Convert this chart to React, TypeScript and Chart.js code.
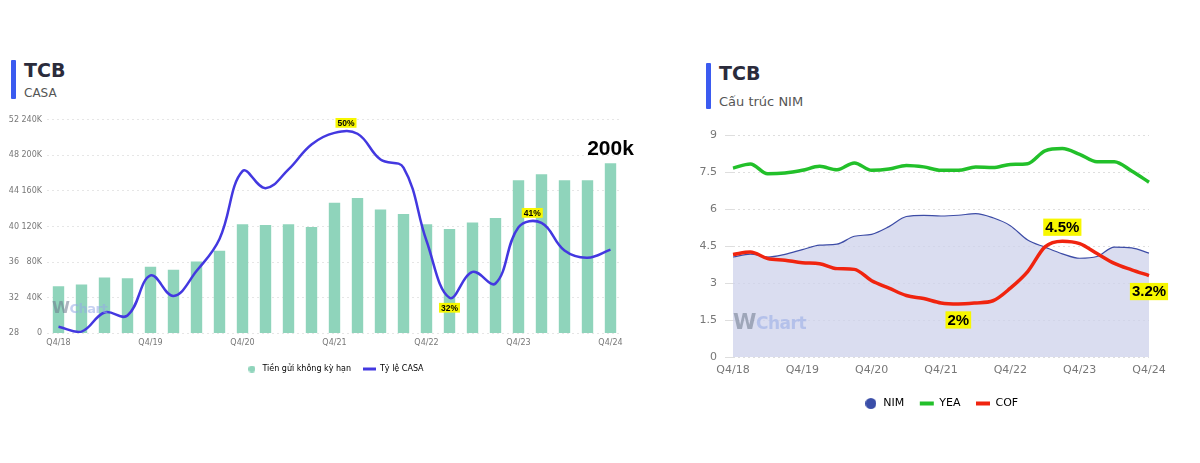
import React, { useEffect, useRef } from "react";
import { Chart, registerables } from "chart.js";
Chart.register(...registerables);

const quarters = [
  "Q4/18", "Q1/19", "Q2/19", "Q3/19", "Q4/19", "Q1/20", "Q2/20", "Q3/20", "Q4/20",
  "Q1/21", "Q2/21", "Q3/21", "Q4/21", "Q1/22", "Q2/22", "Q3/22", "Q4/22",
  "Q1/23", "Q2/23", "Q3/23", "Q4/23", "Q1/24", "Q2/24", "Q3/24", "Q4/24",
];

// Left chart: CASA
const demandDeposits = [53, 55, 62.7, 62, 74.7, 71.3, 80.6, 92.6, 122.5, 121.7, 122.5, 119.5, 146.7, 152, 139, 134, 122.5, 117, 124.3, 129.5, 171.7, 178.5, 171.7, 171.7, 191];
const casaRatio = [28.75, 28.2, 30.35, 30.0, 34.5, 32.2, 35.0, 38.6, 46.2, 44.3, 46.4, 49.2, 50.5, 50.4, 47.5, 46.6, 38.4, 32.0, 34.9, 33.6, 39.9, 40.4, 37.3, 36.5, 37.4];
const ratioTicks = { min: 28, max: 52, step: 4 };
const amountTicks = { min: 0, max: 240, step: 40 };

// Right chart: NIM structure
const nim = [4.06, 4.18, 4.06, 4.17, 4.36, 4.54, 4.58, 4.9, 4.98, 5.29, 5.7, 5.75, 5.72, 5.75, 5.82, 5.65, 5.33, 4.75, 4.46, 4.19, 4.01, 4.08, 4.46, 4.43, 4.22];
const yea = [7.66, 7.83, 7.43, 7.46, 7.57, 7.73, 7.59, 7.87, 7.57, 7.62, 7.77, 7.71, 7.57, 7.57, 7.7, 7.68, 7.81, 7.84, 8.36, 8.45, 8.22, 7.92, 7.92, 7.54, 7.09];
const cof = [4.16, 4.26, 4.0, 3.93, 3.83, 3.79, 3.59, 3.56, 3.1, 2.8, 2.5, 2.38, 2.2, 2.16, 2.2, 2.29, 2.8, 3.47, 4.47, 4.7, 4.6, 4.2, 3.8, 3.54, 3.31];
const nimTicks = { min: 0, max: 9, step: 1.5 };

type Lbl = { ds: number; at: number; text: string; dy: number; size: number; bg: string | null };

const casaLabels: Lbl[] = [
  { ds: 1, at: 12.5, text: "50%", dy: -10, size: 8.5, bg: "#f7f700" },
  { ds: 1, at: 17, text: "32%", dy: 10, size: 8.5, bg: "#f7f700" },
  { ds: 1, at: 20.6, text: "41%", dy: -10, size: 8.5, bg: "#f7f700" },
  { ds: 0, at: 24, text: "200k", dy: -14, size: 21, bg: null },
];
const nimLabels: Lbl[] = [
  { ds: 2, at: 13, text: "2%", dy: 16, size: 15, bg: "#f7f700" },
  { ds: 2, at: 19, text: "4.5%", dy: -14, size: 15, bg: "#f7f700" },
  { ds: 2, at: 24, text: "3.2%", dy: 16, size: 15, bg: "#f7f700" },
];

const FONT = "'DejaVu Sans', sans-serif";
const q4Only = (_v: any, i: number) => (quarters[i].startsWith("Q4") ? quarters[i] : "");

function makeDot(d: number, color: string) {
  const c = document.createElement("canvas");
  c.width = d;
  c.height = d;
  const g = c.getContext("2d")!;
  g.fillStyle = color;
  g.beginPath();
  g.arc(d / 2, d / 2, d / 2, 0, Math.PI * 2);
  g.fill();
  return c;
}

function labelPlugin(labels: Lbl[]) {
  return {
    id: "valueLabels",
    afterDatasetsDraw(chart: any) {
      const ctx = chart.ctx;
      ctx.save();
      for (const l of labels) {
        const meta = chart.getDatasetMeta(l.ds);
        const i0 = Math.floor(l.at);
        const i1 = Math.ceil(l.at);
        const p0 = meta.data[i0];
        const p1 = meta.data[i1];
        const t = l.at - i0;
        const x = p0.x + (p1.x - p0.x) * t;
        const y = Math.min(p0.y, p1.y) + l.dy;
        ctx.font = `bold ${l.size}px 'Liberation Sans', Arial, sans-serif`;
        ctx.textAlign = "center";
        ctx.textBaseline = "middle";
        const w = ctx.measureText(l.text).width;
        if (l.bg) {
          ctx.fillStyle = l.bg;
          const h = l.size * 1.15;
          ctx.fillRect(x - w / 2 - 2, y - h / 2, w + 4, h);
        }
        ctx.fillStyle = "#000";
        ctx.fillText(l.text, x, y + 0.5);
      }
      ctx.restore();
    },
  };
}

function CasaChart() {
  const ref = useRef<HTMLCanvasElement>(null);
  useEffect(() => {
    const dot = makeDot(7, "#8fd4bb");
    const chart = new Chart(ref.current!, {
      type: "bar",
      data: {
        labels: quarters,
        datasets: [
          {
            type: "bar",
            label: "Tiền gửi không kỳ hạn",
            data: demandDeposits,
            yAxisID: "yAmt",
            backgroundColor: "#8fd4bb",
            barPercentage: 0.55,
            categoryPercentage: 0.9,
            order: 1,
          },
          {
            type: "line",
            label: "Tỷ lệ CASA",
            data: casaRatio,
            yAxisID: "yRatio",
            borderColor: "#4338e0",
            backgroundColor: "#4338e0",
            borderWidth: 2.5,
            tension: 0.4,
            pointRadius: 0,
            order: 0,
          } as any,
        ],
      },
      options: {
        animation: false,
        responsive: true,
        maintainAspectRatio: false,
        layout: { padding: { top: 14.5, right: 18, left: 0, bottom: 0 } },
        plugins: {
          tooltip: { enabled: false },
          legend: {
            position: "bottom",
            fullSize: false,
            labels: {
              font: { size: 8, family: FONT },
              color: "#444",
              boxWidth: 12,
              boxHeight: 7,
              padding: 12,
              usePointStyle: true,
              pointStyleWidth: 13,
              generateLabels: () => [
                { text: "Tiền gửi không kỳ hạn", fillStyle: "#8fd4bb", strokeStyle: "#8fd4bb", lineWidth: 0, pointStyle: dot, datasetIndex: 0, hidden: false } as any,
                { text: "Tỷ lệ CASA", fillStyle: "#4338e0", strokeStyle: "#4338e0", lineWidth: 3, pointStyle: "line", datasetIndex: 1, hidden: false } as any,
              ],
            },
          },
        },
        scales: {
          x: {
            grid: { display: false, drawTicks: false, tickLength: 0 },
            border: { display: false },
            ticks: { autoSkip: false, maxRotation: 0, padding: 5, font: { size: 8, family: FONT }, color: "#777", callback: q4Only },
          },
          yAmt: {
            position: "left",
            min: amountTicks.min,
            max: amountTicks.max,
            grid: { color: "#e6e6e6", drawTicks: false },
            border: { display: false, dash: [2, 3] },
            ticks: {
              stepSize: amountTicks.step,
              font: { size: 8, family: FONT },
              color: "#777",
              padding: 5,
              callback: (v: any) => (v === 0 ? "0" : `${v}K`),
            },
            afterFit: (s: any) => { s.width = 26; },
          },
          yRatio: {
            position: "left",
            min: ratioTicks.min,
            max: ratioTicks.max,
            grid: { display: false, drawTicks: false },
            border: { display: false },
            ticks: { stepSize: ratioTicks.step, font: { size: 8, family: FONT }, color: "#777", padding: 2 },
            afterFit: (s: any) => { s.width = 21; },
          },
        },
      },
      plugins: [labelPlugin(casaLabels)],
    });
    return () => chart.destroy();
  }, []);
  return <canvas ref={ref} />;
}

function NimChart() {
  const ref = useRef<HTMLCanvasElement>(null);
  useEffect(() => {
    const dot = makeDot(11, "#3a4ea8");
    const chart = new Chart(ref.current!, {
      type: "line",
      data: {
        labels: quarters,
        datasets: [
          {
            label: "NIM",
            data: nim,
            borderColor: "#3d4ca6",
            backgroundColor: "rgba(205,209,235,0.75)",
            borderWidth: 1.2,
            fill: "origin",
            cubicInterpolationMode: "monotone",
            pointRadius: 0,
            order: 2,
          },
          {
            label: "YEA",
            data: yea,
            borderColor: "#22c02a",
            backgroundColor: "#22c02a",
            borderWidth: 3.5,
            cubicInterpolationMode: "monotone",
            pointRadius: 0,
            order: 1,
          },
          {
            label: "COF",
            data: cof,
            borderColor: "#f0240f",
            backgroundColor: "#f0240f",
            borderWidth: 3.5,
            cubicInterpolationMode: "monotone",
            pointRadius: 0,
            order: 0,
          },
        ],
      },
      options: {
        animation: false,
        responsive: true,
        maintainAspectRatio: false,
        layout: { padding: { top: 15, right: 41, left: 0, bottom: 0 } },
        plugins: {
          tooltip: { enabled: false },
          legend: {
            position: "bottom",
            fullSize: false,
            labels: {
              font: { size: 11, family: FONT },
              color: "#444",
              padding: 15.5,
              boxWidth: 14,
              boxHeight: 11,
              usePointStyle: true,
              pointStyleWidth: 14,
              generateLabels: () => [
                { text: "NIM", fillStyle: "#3a4ea8", strokeStyle: "#3a4ea8", lineWidth: 0, pointStyle: dot, datasetIndex: 0, hidden: false } as any,
                { text: "YEA", fillStyle: "#22c02a", strokeStyle: "#22c02a", lineWidth: 4, pointStyle: "line", datasetIndex: 1, hidden: false } as any,
                { text: "COF", fillStyle: "#f0240f", strokeStyle: "#f0240f", lineWidth: 4, pointStyle: "line", datasetIndex: 2, hidden: false } as any,
              ],
            },
          },
        },
        scales: {
          x: {
            grid: { display: false, drawTicks: false, tickLength: 0 },
            border: { display: false },
            ticks: { autoSkip: false, maxRotation: 0, padding: 6, font: { size: 11, family: FONT }, color: "#777", callback: q4Only },
          },
          y: {
            min: nimTicks.min,
            max: nimTicks.max,
            grid: { color: "#dedede", tickLength: 8 },
            border: { display: false, dash: [2, 3] },
            ticks: { stepSize: nimTicks.step, font: { size: 11, family: FONT }, color: "#777", padding: 8 },
            afterFit: (s: any) => { s.width = 43; },
          },
        },
      },
      plugins: [labelPlugin(nimLabels)],
    });
    return () => chart.destroy();
  }, []);
  return <canvas ref={ref} />;
}

function Title({ left, top, title, sub, titleSize, subSize, barH, gap }: any) {
  return (
    <div style={{ position: "absolute", left, top, display: "flex", fontFamily: FONT }}>
      <div style={{ width: 5, height: barH, background: "#3b5bf0", borderRadius: 1, marginRight: 8 }} />
      <div>
        <div style={{ fontWeight: "bold", fontSize: titleSize, color: "#2b2b3b", lineHeight: 1.1 }}>{title}</div>
        <div style={{ fontSize: subSize, color: "#555", marginTop: gap }}>{sub}</div>
      </div>
    </div>
  );
}

function Watermark({ left, top, size }: any) {
  return (
    <div style={{ position: "absolute", left, top, fontFamily: FONT, fontWeight: "bold", fontSize: size, pointerEvents: "none", letterSpacing: -0.5 }}>
      <span style={{ color: "rgba(110,120,140,0.55)", fontSize: size * 1.25 }}>W</span>
      <span style={{ color: "rgba(150,170,230,0.55)" }}>Chart</span>
    </div>
  );
}

export default function App() {
  return (
    <div style={{ position: "absolute", left: 0, top: 0, width: 1200, height: 463, background: "#fff", overflow: "hidden" }}>
      <Title left={11} top={60} title="TCB" sub="CASA" titleSize={19} subSize={12} barH={39} gap={5} />
      <Title left={706} top={63} title="TCB" sub="Cấu trúc NIM" titleSize={19} subSize={13} barH={46} gap={10} />
      <div style={{ position: "absolute", left: 0, top: 105, width: 640, height: 278 }}>
        <CasaChart />
      </div>
      <div style={{ position: "absolute", left: 690, top: 120, width: 500, height: 299 }}>
        <NimChart />
      </div>
      <Watermark left={52} top={298} size={13} />
      <Watermark left={733} top={309} size={17} />
    </div>
  );
}
